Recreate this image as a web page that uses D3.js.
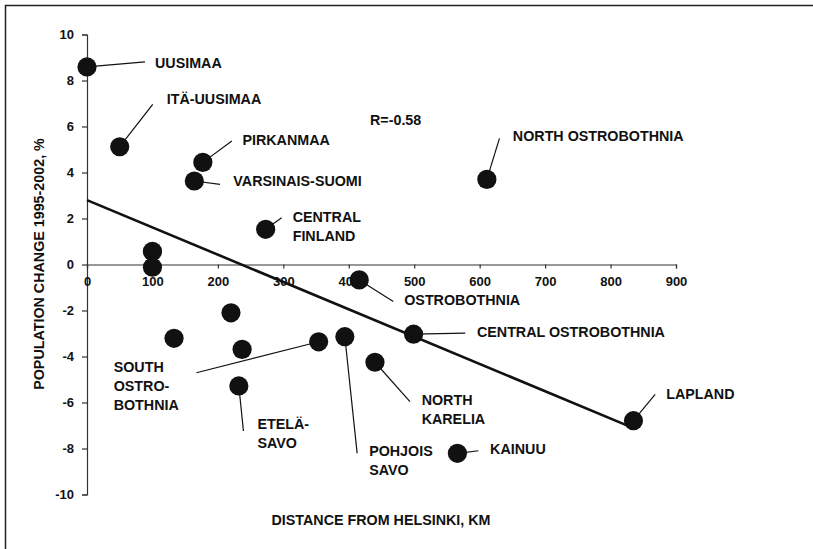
<!DOCTYPE html>
<html>
<head>
<meta charset="utf-8">
<script src="https://cdn.jsdelivr.net/npm/d3@7"></script>
<style>
  body { margin: 0; background: #fff; }
  svg text { font-family: "Liberation Sans", Arial, sans-serif; font-weight: bold; fill: #111; }
</style>
</head>
<body>
<div id="chart"></div>
<script>
// regions, distance from Helsinki (km) and population change 1995-2002 (%)
var regions = ["Uusimaa", "Itä-Uusimaa", "Pirkanmaa", "Varsinais-Suomi", "Central Finland",
  "Kanta-Häme", "Päijät-Häme", "Satakunta", "Kymenlaakso", "South Karelia",
  "Etelä-Savo", "Ostrobothnia", "Central Ostrobothnia", "North Ostrobothnia", "South Ostrobothnia",
  "Pohjois Savo", "North Karelia", "Kainuu", "Lapland"];
var distance = [0, 50, 177, 164, 273, 100, 100, 220, 133, 237, 232, 416, 499, 611, 354, 394, 440, 566, 835];
var change = [8.59, 5.12, 4.44, 3.63, 1.53, 0.57, -0.12, -2.1, -3.21, -3.69, -5.28, -0.67, -3.03, 3.70, -3.36, -3.14, -4.25, -8.21, -6.79];

// label text lines (empty = unlabeled point)
var labelLines = [["UUSIMAA"], ["ITÄ-UUSIMAA"], ["PIRKANMAA"], ["VARSINAIS-SUOMI"], ["CENTRAL", "FINLAND"],
  [], [], [], [], [],
  ["ETELÄ-", "SAVO"], ["OSTROBOTHNIA"], ["CENTRAL OSTROBOTHNIA"], ["NORTH OSTROBOTHNIA"], ["SOUTH", "OSTRO-", "BOTHNIA"],
  ["POHJOIS", "SAVO"], ["NORTH", "KARELIA"], ["KAINUU"], ["LAPLAND"]];

var xTicks = [0, 100, 200, 300, 400, 500, 600, 700, 800, 900];
var yTicks = [-10, -8, -6, -4, -2, 0, 2, 4, 6, 8, 10];

// trend line
var trendIntercept = 2.80;
var trendSlope = -0.01187;
var trendEnd = 836;
var rLabel = "R=-0.58";

// label placement: pixel offsets from the dot (text start, leader end)
var labelLayout = {
  "Uusimaa": {tx: 68, ty: 1, lx: 58, ly: -5},
  "Itä-Uusimaa": {tx: 47, ty: -42.5, lx: 33, ly: -42.4},
  "Pirkanmaa": {tx: 39.6, ty: -17.3, lx: 29, ly: -21.3},
  "Varsinais-Suomi": {tx: 39, ty: 4.5, lx: 25.7, ly: 3.3},
  "Central Finland": {tx: 27, ty: -7.3, lx: 16, ly: -11.6},
  "North Ostrobothnia": {tx: 26, ty: -38.3, lx: 12.6, ly: -41},
  "Ostrobothnia": {tx: 45, ty: 25, lx: 34, ly: 21.7},
  "Central Ostrobothnia": {tx: 63.4, ty: 2.4, lx: 51.7, ly: -1},
  "South Ostrobothnia": {tx: -205, ty: 30.6, lx: -122.3, ly: 31},
  "Etelä-Savo": {tx: 18.6, ty: 43.3, lx: 4.6, ly: 45},
  "Pohjois Savo": {tx: 24.3, ty: 119, lx: 12.3, ly: 116.6},
  "North Karelia": {tx: 46.7, ty: 42.7, lx: 35, ly: 39.4},
  "Kainuu": {tx: 32.7, ty: 1, lx: 21, ly: -2.6},
  "Lapland": {tx: 32.7, ty: -21.4, lx: 21.7, ly: -26.4}
};

var width = 813, height = 549;

var svg = d3.select("#chart").append("svg")
  .attr("width", width)
  .attr("height", height);

// outer frame (only top and left edges visible)
svg.append("path")
  .attr("d", "M5.5," + height + "V5.5H" + width)
  .attr("fill", "none")
  .attr("stroke", "#222")
  .attr("stroke-width", 1.5);

//scales
var x = d3.scaleLinear().domain([0, 900]).range([87, 676]);
var y = d3.scaleLinear().domain([-10, 10]).range([494.5, 34.5]);

//plain hyphen minus like the original
var plain = function(d) { return String(d); };

//y axis on the left
var yAxis = svg.append("g")
  .attr("transform", "translate(" + x(0) + ",0)")
  .call(d3.axisLeft(y).tickValues(yTicks).tickSize(5).tickPadding(8).tickFormat(plain));

//x axis through zero, labels just below
var xAxis = svg.append("g")
  .attr("transform", "translate(0," + y(0) + ")")
  .call(d3.axisBottom(x).tickValues(xTicks).tickSize(4).tickPadding(11).tickFormat(plain));

[xAxis, yAxis].forEach(function(g) {
  g.select(".domain").attr("stroke", "#333").attr("stroke-width", 1.2);
  g.selectAll(".tick line").attr("stroke", "#333").attr("stroke-width", 1.2);
  g.selectAll(".tick text").style("font-size", "13px").attr("fill", "#111");
});
xAxis.selectAll(".tick text").attr("dy", "0.5em");

var points = regions.map(function(name, i) {
  return {name: name, d: distance[i], v: change[i], lines: labelLines[i]};
});

//leader lines
points.forEach(function(p) {
  var lay = labelLayout[p.name];
  if (!lay) return;
  svg.append("line")
    .attr("x1", x(p.d)).attr("y1", y(p.v))
    .attr("x2", x(p.d) + lay.lx).attr("y2", y(p.v) + lay.ly)
    .attr("stroke", "#111")
    .attr("stroke-width", 1.2);
});

//dots
svg.append("g").selectAll("circle")
  .data(points)
  .enter().append("circle")
  .attr("cx", function(p) { return x(p.d); })
  .attr("cy", function(p) { return y(p.v); })
  .attr("r", 9.6)
  .attr("fill", "#111");

//trend line
svg.append("line")
  .attr("x1", x(0)).attr("y1", y(trendIntercept))
  .attr("x2", x(trendEnd)).attr("y2", y(trendIntercept + trendSlope * trendEnd))
  .attr("stroke", "#111")
  .attr("stroke-width", 2.6);

//labels
points.forEach(function(p) {
  var lay = labelLayout[p.name];
  if (!lay) return;
  var t = svg.append("text")
    .attr("x", x(p.d) + lay.tx)
    .attr("y", y(p.v) + lay.ty)
    .style("font-size", "14.3px");
  p.lines.forEach(function(line, k) {
    t.append("tspan")
      .attr("x", x(p.d) + lay.tx)
      .attr("dy", k === 0 ? 0 : 19)
      .text(line);
  });
});

svg.append("text")
  .attr("x", 370).attr("y", 125)
  .style("font-size", "14.3px")
  .text(rLabel);

//axis titles
svg.append("text")
  .attr("x", 381).attr("y", 525)
  .attr("text-anchor", "middle")
  .style("font-size", "14.3px")
  .text("DISTANCE FROM HELSINKI, KM");

svg.append("text")
  .attr("transform", "translate(44,264) rotate(-90)")
  .attr("text-anchor", "middle")
  .style("font-size", "14.3px")
  .text("POPULATION CHANGE 1995-2002, %");
</script>
</body>
</html>
